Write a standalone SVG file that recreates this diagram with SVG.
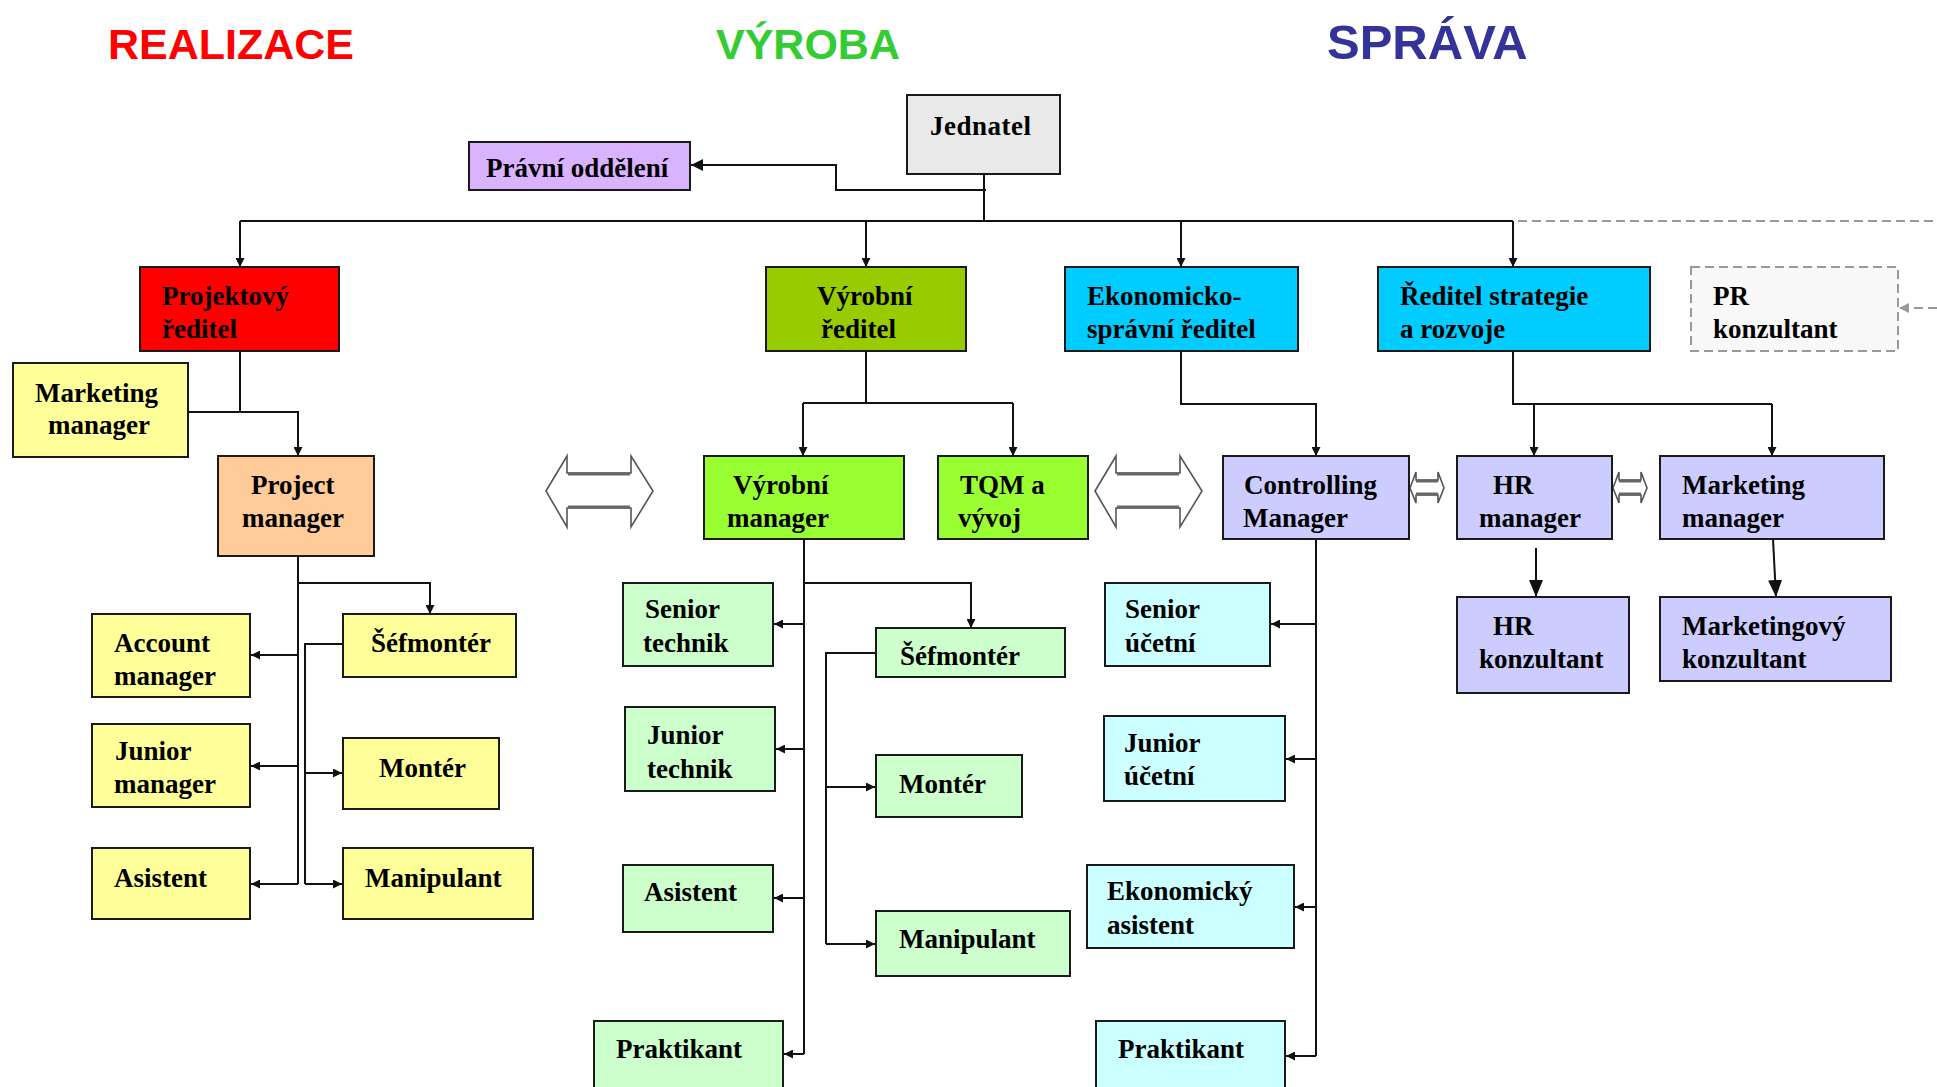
<svg xmlns="http://www.w3.org/2000/svg" width="1937" height="1087" viewBox="0 0 1937 1087">
  <style>
    .title { font-family: "Liberation Sans", Arial, sans-serif; font-weight: bold; }
    .box { stroke: #1a1a1a; stroke-width: 2; }
    .lbl { font-family: "Liberation Serif", "Times New Roman", serif; font-weight: bold; font-size: 27px; fill: #000; }
    .wire { fill: none; stroke: #111; stroke-width: 2; }
    .dash { fill: none; stroke: #999; stroke-width: 2; stroke-dasharray: 9 5; }
    .dbl { fill: #fff; stroke: #555; stroke-width: 1.6; stroke-linejoin: miter; }
    .shaft { stroke: #666; stroke-width: 3; }
    .red { fill: #ff0000; }
    .olive { fill: #99cc00; }
    .sky { fill: #00ccff; }
    .yellow { fill: #ffff99; }
    .peach { fill: #ffcc99; }
    .lime { fill: #99ff33; }
    .mint { fill: #ccffcc; }
    .lav { fill: #ccccff; }
    .aqua { fill: #ccffff; }
  </style>
  <defs>
    <marker id="ah" markerUnits="userSpaceOnUse" markerWidth="10" markerHeight="9" refX="9" refY="4.5" orient="auto">
      <path d="M0,0 L9,4.5 L0,9 z" fill="#111"/>
    </marker>
    <marker id="ahBig" markerUnits="userSpaceOnUse" markerWidth="18" markerHeight="14" refX="17" refY="7" orient="auto">
      <path d="M0,0 L17,7 L0,14 z" fill="#111"/>
    </marker>
    <marker id="ahMid" markerUnits="userSpaceOnUse" markerWidth="13" markerHeight="12" refX="12" refY="6" orient="auto">
      <path d="M0,0 L12,6 L0,12 z" fill="#111"/>
    </marker>
    <marker id="ahGray" markerUnits="userSpaceOnUse" markerWidth="11" markerHeight="10" refX="10" refY="5" orient="auto">
      <path d="M0,0 L10,5 L0,10 z" fill="#999"/>
    </marker>
    <!-- outlined two-way block arrow -->
    <g id="bigDbl">
      <polygon class="dbl" points="546,491 567,456 567,473 631,473 631,456 653,491 631,527 631,508 567,508 567,527"/>
      <line class="shaft" x1="568" y1="474" x2="630" y2="474"/>
      <line class="shaft" x1="568" y1="507" x2="630" y2="507"/>
    </g>
    <g id="smallDbl">
      <polygon class="dbl" points="1410,488 1416,472 1416,480 1438,480 1438,472 1444,488 1438,503 1438,495 1416,495 1416,503"/>
      <line class="shaft" x1="1416" y1="481" x2="1438" y2="481"/>
      <line class="shaft" x1="1416" y1="494" x2="1438" y2="494"/>
    </g>
  </defs>

  <rect width="1937" height="1087" fill="#fff"/>

  <!-- section headings -->
  <text class="title" x="108" y="59" font-size="43" fill="#ff0000">REALIZACE</text>
  <text class="title" x="716" y="59" font-size="43" fill="#33cc33">VÝROBA</text>
  <text class="title" x="1327" y="59" font-size="49" fill="#333399">SPRÁVA</text>

  <!-- connectors -->
  <g id="connectors">
    <!-- top level -->
    <path class="wire" d="M984,174 V221"/>
    <path class="wire" d="M986,190 H836 V165 H691" marker-end="url(#ahMid)"/>
    <path class="wire" d="M240,221 H1513"/>
    <path class="wire" d="M240,221 V267" marker-end="url(#ah)"/>
    <path class="wire" d="M866,221 V267" marker-end="url(#ah)"/>
    <path class="wire" d="M1181,221 V267" marker-end="url(#ah)"/>
    <path class="wire" d="M1513,221 V267" marker-end="url(#ah)"/>
    <path class="dash" d="M1518,221 H1937"/>
    <path class="dash" d="M1937,308 H1899" marker-end="url(#ahGray)"/>

    <!-- realizace -->
    <path class="wire" d="M240,351 V412"/>
    <path class="wire" d="M298,412 H176" marker-end="url(#ah)"/>
    <path class="wire" d="M240,412 H298 V456" marker-end="url(#ah)"/>
    <path class="wire" d="M298,556 V884"/>
    <path class="wire" d="M298,583 H430 V614" marker-end="url(#ah)"/>
    <path class="wire" d="M298,655 H251" marker-end="url(#ah)"/>
    <path class="wire" d="M298,766 H251" marker-end="url(#ah)"/>
    <path class="wire" d="M298,884 H251" marker-end="url(#ah)"/>
    <path class="wire" d="M343,644 H305 V884"/>
    <path class="wire" d="M305,773 H342" marker-end="url(#ah)"/>
    <path class="wire" d="M305,884 H342" marker-end="url(#ah)"/>

    <!-- vyroba -->
    <path class="wire" d="M866,351 V403"/>
    <path class="wire" d="M803,403 H1013"/>
    <path class="wire" d="M803,403 V456" marker-end="url(#ah)"/>
    <path class="wire" d="M1013,403 V456" marker-end="url(#ah)"/>
    <path class="wire" d="M804,539 V1054"/>
    <path class="wire" d="M804,583 H971 V628" marker-end="url(#ah)"/>
    <path class="wire" d="M804,624 H774" marker-end="url(#ah)"/>
    <path class="wire" d="M804,749 H776" marker-end="url(#ah)"/>
    <path class="wire" d="M804,898 H774" marker-end="url(#ah)"/>
    <path class="wire" d="M804,1054 H784" marker-end="url(#ah)"/>
    <path class="wire" d="M876,653 H826 V944"/>
    <path class="wire" d="M826,787 H875" marker-end="url(#ah)"/>
    <path class="wire" d="M826,944 H875" marker-end="url(#ah)"/>

    <!-- sprava -->
    <path class="wire" d="M1181,351 V404 H1316 V456" marker-end="url(#ah)"/>
    <path class="wire" d="M1316,539 V1056"/>
    <path class="wire" d="M1316,624 H1271" marker-end="url(#ah)"/>
    <path class="wire" d="M1316,759 H1286" marker-end="url(#ah)"/>
    <path class="wire" d="M1316,907 H1295" marker-end="url(#ah)"/>
    <path class="wire" d="M1316,1056 H1286" marker-end="url(#ah)"/>
    <path class="wire" d="M1513,351 V404 H1772"/>
    <path class="wire" d="M1534,404 V456" marker-end="url(#ah)"/>
    <path class="wire" d="M1772,404 V456" marker-end="url(#ah)"/>
    <path class="wire" d="M1536,548 V597" marker-end="url(#ahBig)"/>
    <path class="wire" d="M1773,539 L1776,597" marker-end="url(#ahBig)"/>

    <!-- two-way block arrows -->
    <use href="#bigDbl"/>
    <use href="#bigDbl" transform="translate(549,0)"/>
    <use href="#smallDbl"/>
    <use href="#smallDbl" transform="translate(203,0)"/>
  </g>

  <!-- top -->
  <g id="jednatel">
    <rect class="box" x="907" y="95" width="153" height="79" fill="#e9e9e9"/>
    <text class="lbl" x="930" y="135" font-size="32" letter-spacing="0.5">Jednatel</text>
  </g>
  <g id="pravni-oddeleni">
    <rect class="box" x="469" y="142" width="221" height="48" fill="#d9b3ff"/>
    <text class="lbl" x="486" y="177" font-size="28">Právní oddělení</text>
  </g>

  <!-- directors -->
  <g id="projektovy-reditel">
    <rect class="box red" x="140" y="267" width="199" height="84"/>
    <text class="lbl" x="162" y="305">Projektový</text>
    <text class="lbl" x="162" y="338">ředitel</text>
  </g>
  <g id="vyrobni-reditel">
    <rect class="box olive" x="766" y="267" width="200" height="84"/>
    <text class="lbl" x="817" y="305">Výrobní</text>
    <text class="lbl" x="821" y="338">ředitel</text>
  </g>
  <g id="ekonomicko-spravni-reditel">
    <rect class="box sky" x="1065" y="267" width="233" height="84"/>
    <text class="lbl" x="1087" y="305">Ekonomicko-</text>
    <text class="lbl" x="1087" y="338">správní ředitel</text>
  </g>
  <g id="reditel-strategie">
    <rect class="box sky" x="1378" y="267" width="272" height="84"/>
    <text class="lbl" x="1400" y="305">Ředitel strategie</text>
    <text class="lbl" x="1400" y="338">a rozvoje</text>
  </g>
  <g id="pr-konzultant">
    <rect x="1691" y="267" width="207" height="84" fill="#f8f8f8" stroke="#999" stroke-width="2" stroke-dasharray="9 5"/>
    <text class="lbl" x="1713" y="305">PR</text>
    <text class="lbl" x="1713" y="338">konzultant</text>
  </g>

  <!-- realizace -->
  <g id="marketing-manager-r">
    <rect class="box yellow" x="13" y="363" width="175" height="94"/>
    <text class="lbl" x="35" y="402">Marketing</text>
    <text class="lbl" x="48" y="434">manager</text>
  </g>
  <g id="project-manager">
    <rect class="box peach" x="218" y="456" width="156" height="100"/>
    <text class="lbl" x="251" y="494">Project</text>
    <text class="lbl" x="242" y="527">manager</text>
  </g>
  <g id="account-manager">
    <rect class="box yellow" x="92" y="614" width="158" height="83"/>
    <text class="lbl" x="114" y="652">Account</text>
    <text class="lbl" x="114" y="685">manager</text>
  </g>
  <g id="junior-manager">
    <rect class="box yellow" x="92" y="724" width="158" height="83"/>
    <text class="lbl" x="115" y="760">Junior</text>
    <text class="lbl" x="114" y="793">manager</text>
  </g>
  <g id="asistent-r">
    <rect class="box yellow" x="92" y="848" width="158" height="71"/>
    <text class="lbl" x="114" y="887">Asistent</text>
  </g>
  <g id="sefmonter-r">
    <rect class="box yellow" x="343" y="614" width="173" height="63"/>
    <text class="lbl" x="371" y="652">Šéfmontér</text>
  </g>
  <g id="monter-r">
    <rect class="box yellow" x="343" y="738" width="156" height="71"/>
    <text class="lbl" x="379" y="777">Montér</text>
  </g>
  <g id="manipulant-r">
    <rect class="box yellow" x="343" y="848" width="190" height="71"/>
    <text class="lbl" x="365" y="887">Manipulant</text>
  </g>

  <!-- vyroba -->
  <g id="vyrobni-manager">
    <rect class="box lime" x="704" y="456" width="200" height="83"/>
    <text class="lbl" x="733" y="494">Výrobní</text>
    <text class="lbl" x="727" y="527">manager</text>
  </g>
  <g id="tqm-vyvoj">
    <rect class="box lime" x="938" y="456" width="150" height="83"/>
    <text class="lbl" x="960" y="494">TQM a</text>
    <text class="lbl" x="958" y="527">vývoj</text>
  </g>
  <g id="senior-technik">
    <rect class="box mint" x="623" y="583" width="150" height="83"/>
    <text class="lbl" x="645" y="618">Senior</text>
    <text class="lbl" x="643" y="652">technik</text>
  </g>
  <g id="junior-technik">
    <rect class="box mint" x="625" y="707" width="150" height="84"/>
    <text class="lbl" x="647" y="744">Junior</text>
    <text class="lbl" x="647" y="778">technik</text>
  </g>
  <g id="asistent-v">
    <rect class="box mint" x="623" y="865" width="150" height="67"/>
    <text class="lbl" x="644" y="901">Asistent</text>
  </g>
  <g id="praktikant-v">
    <rect class="box mint" x="594" y="1021" width="189" height="70"/>
    <text class="lbl" x="616" y="1058">Praktikant</text>
  </g>
  <g id="sefmonter-v">
    <rect class="box mint" x="876" y="628" width="189" height="49"/>
    <text class="lbl" x="900" y="665">Šéfmontér</text>
  </g>
  <g id="monter-v">
    <rect class="box mint" x="876" y="755" width="146" height="62"/>
    <text class="lbl" x="899" y="793">Montér</text>
  </g>
  <g id="manipulant-v">
    <rect class="box mint" x="876" y="911" width="194" height="65"/>
    <text class="lbl" x="899" y="948">Manipulant</text>
  </g>

  <!-- sprava -->
  <g id="controlling-manager">
    <rect class="box lav" x="1223" y="456" width="186" height="83"/>
    <text class="lbl" x="1244" y="494">Controlling</text>
    <text class="lbl" x="1243" y="527">Manager</text>
  </g>
  <g id="hr-manager">
    <rect class="box lav" x="1457" y="456" width="155" height="83"/>
    <text class="lbl" x="1493" y="494">HR</text>
    <text class="lbl" x="1479" y="527">manager</text>
  </g>
  <g id="marketing-manager-s">
    <rect class="box lav" x="1660" y="456" width="224" height="83"/>
    <text class="lbl" x="1682" y="494">Marketing</text>
    <text class="lbl" x="1682" y="527">manager</text>
  </g>
  <g id="hr-konzultant">
    <rect class="box lav" x="1457" y="597" width="172" height="96"/>
    <text class="lbl" x="1493" y="635">HR</text>
    <text class="lbl" x="1479" y="668">konzultant</text>
  </g>
  <g id="marketingovy-konzultant">
    <rect class="box lav" x="1660" y="597" width="231" height="84"/>
    <text class="lbl" x="1682" y="635">Marketingový</text>
    <text class="lbl" x="1682" y="668">konzultant</text>
  </g>
  <g id="senior-ucetni">
    <rect class="box aqua" x="1105" y="583" width="165" height="83"/>
    <text class="lbl" x="1125" y="618">Senior</text>
    <text class="lbl" x="1125" y="652">účetní</text>
  </g>
  <g id="junior-ucetni">
    <rect class="box aqua" x="1104" y="716" width="181" height="85"/>
    <text class="lbl" x="1124" y="752">Junior</text>
    <text class="lbl" x="1124" y="785">účetní</text>
  </g>
  <g id="ekonomicky-asistent">
    <rect class="box aqua" x="1087" y="865" width="207" height="83"/>
    <text class="lbl" x="1107" y="900">Ekonomický</text>
    <text class="lbl" x="1107" y="934">asistent</text>
  </g>
  <g id="praktikant-s">
    <rect class="box aqua" x="1096" y="1021" width="189" height="70"/>
    <text class="lbl" x="1118" y="1058">Praktikant</text>
  </g>
</svg>
